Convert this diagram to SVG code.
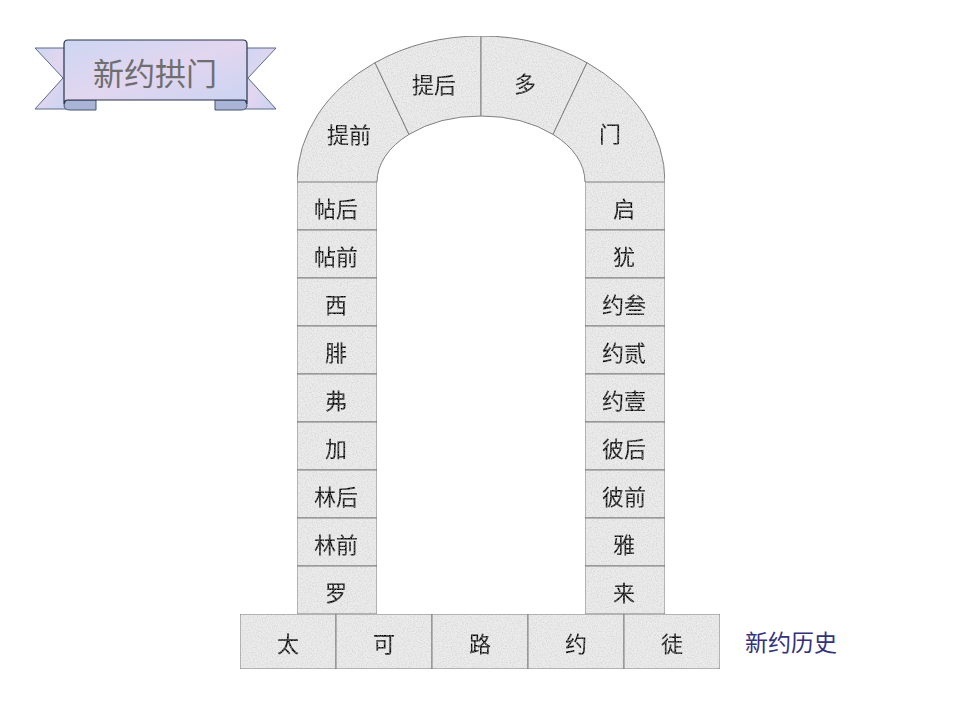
<svg xmlns="http://www.w3.org/2000/svg" width="960" height="720" viewBox="0 0 960 720">
<defs>
<filter id="grain" x="0" y="0" width="100%" height="100%">
<feTurbulence type="fractalNoise" baseFrequency="0.8" numOctaves="2" seed="3" result="n"/>
<feColorMatrix in="n" type="matrix" values="0 0 0 0 0.45  0 0 0 0 0.45  0 0 0 0 0.45  0 0 0 0.9 -0.35" result="g"/>
<feComposite in="g" in2="SourceGraphic" operator="in" result="gc"/>
<feMerge><feMergeNode in="SourceGraphic"/><feMergeNode in="gc"/></feMerge>
</filter>
<linearGradient id="ribbon" x1="0" y1="0" x2="1" y2="1">
<stop offset="0" stop-color="#cdd6f2"/>
<stop offset="0.5" stop-color="#e2d6f0"/>
<stop offset="1" stop-color="#c9d3f1"/>
</linearGradient>
<style>
.stone{fill:#ececec;stroke:#7a7a7a;stroke-width:1}
.t{font-family:"Noto Sans CJK SC","Noto Sans",sans-serif;font-size:22px;fill:#000;text-anchor:middle;dominant-baseline:central}
</style>
</defs>
<rect width="960" height="720" fill="#ffffff"/>

<g id="banner">
<path d="M35,48 L66,48 L66,109 L35,109 L63,78 Z" fill="url(#ribbon)" stroke="#5a6a8a" stroke-width="1"/>
<path d="M276,48 L245,48 L245,109 L276,109 L248,78 Z" fill="url(#ribbon)" stroke="#5a6a8a" stroke-width="1"/>
<path d="M66,100 L96,100 L96,110 L70,110 Q64,110 64,105 Z" fill="#a9b4d6" stroke="#44546e" stroke-width="1"/>
<path d="M245,100 L215,100 L215,110 L241,110 Q247,110 247,105 Z" fill="#a9b4d6" stroke="#44546e" stroke-width="1"/>
<path d="M68,40 L243,40 Q247,40 247,44 L247,104 Q247,100 243,100 L68,100 Q64,100 64,104 L64,44 Q64,40 68,40 Z" fill="url(#ribbon)" stroke="#2a3348" stroke-width="1.2"/>
<text x="155" y="71" font-family="'Noto Sans CJK SC','Noto Sans',sans-serif" font-size="31" fill="#6e6e6e" text-anchor="middle" dominant-baseline="central">新约拱门</text>
</g>

<g id="arch" filter="url(#grain)">
<g id="a1"><path class="stone" d="M297,182 A184,146 0 0 1 375,62.7 L409,134.4 A104,66 0 0 0 377,182 Z"/><text class="t" x="349" y="133">提前</text></g>
<g id="a2"><path class="stone" d="M375,62.7 A184,146 0 0 1 481,36 L481,116 A104,66 0 0 0 409,134.4 Z"/><text class="t" x="434" y="83">提后</text></g>
<g id="a3"><path class="stone" d="M481,36 A184,146 0 0 1 587,62.7 L553,134.4 A104,66 0 0 0 481,116 Z"/><text class="t" x="525" y="82">多</text></g>
<g id="a4"><path class="stone" d="M587,62.7 A184,146 0 0 1 665,182 L585,182 A104,66 0 0 0 553,134.4 Z"/><text class="t" x="610" y="132">门</text></g>
</g>

<g id="left" filter="url(#grain)">
<g id="l1"><rect class="stone" x="297" y="182" width="80" height="48"/><text class="t" x="336" y="207">帖后</text></g>
<g id="l2"><rect class="stone" x="297" y="230" width="80" height="48"/><text class="t" x="336" y="255">帖前</text></g>
<g id="l3"><rect class="stone" x="297" y="278" width="80" height="48"/><text class="t" x="336" y="303">西</text></g>
<g id="l4"><rect class="stone" x="297" y="326" width="80" height="48"/><text class="t" x="336" y="351">腓</text></g>
<g id="l5"><rect class="stone" x="297" y="374" width="80" height="48"/><text class="t" x="336" y="399">弗</text></g>
<g id="l6"><rect class="stone" x="297" y="422" width="80" height="48"/><text class="t" x="336" y="447">加</text></g>
<g id="l7"><rect class="stone" x="297" y="470" width="80" height="48"/><text class="t" x="336" y="495">林后</text></g>
<g id="l8"><rect class="stone" x="297" y="518" width="80" height="48"/><text class="t" x="336" y="543">林前</text></g>
<g id="l9"><rect class="stone" x="297" y="566" width="80" height="48"/><text class="t" x="336" y="591">罗</text></g>
</g>

<g id="right" filter="url(#grain)">
<g id="r1"><rect class="stone" x="585" y="182" width="80" height="48"/><text class="t" x="624" y="207">启</text></g>
<g id="r2"><rect class="stone" x="585" y="230" width="80" height="48"/><text class="t" x="624" y="255">犹</text></g>
<g id="r3"><rect class="stone" x="585" y="278" width="80" height="48"/><text class="t" x="624" y="303">约叁</text></g>
<g id="r4"><rect class="stone" x="585" y="326" width="80" height="48"/><text class="t" x="624" y="351">约贰</text></g>
<g id="r5"><rect class="stone" x="585" y="374" width="80" height="48"/><text class="t" x="624" y="399">约壹</text></g>
<g id="r6"><rect class="stone" x="585" y="422" width="80" height="48"/><text class="t" x="624" y="447">彼后</text></g>
<g id="r7"><rect class="stone" x="585" y="470" width="80" height="48"/><text class="t" x="624" y="495">彼前</text></g>
<g id="r8"><rect class="stone" x="585" y="518" width="80" height="48"/><text class="t" x="624" y="543">雅</text></g>
<g id="r9"><rect class="stone" x="585" y="566" width="80" height="48"/><text class="t" x="624" y="591">来</text></g>
</g>

<g id="base" filter="url(#grain)">
<g id="b1"><rect class="stone" x="240" y="614" width="96" height="55"/><text class="t" x="288" y="642">太</text></g>
<g id="b2"><rect class="stone" x="336" y="614" width="96" height="55"/><text class="t" x="384" y="642">可</text></g>
<g id="b3"><rect class="stone" x="432" y="614" width="96" height="55"/><text class="t" x="480" y="642">路</text></g>
<g id="b4"><rect class="stone" x="528" y="614" width="96" height="55"/><text class="t" x="576" y="642">约</text></g>
<g id="b5"><rect class="stone" x="624" y="614" width="96" height="55"/><text class="t" x="672" y="642">徒</text></g>
</g>

<g id="connectors"></g>

<text x="791" y="641" font-family="'Noto Sans CJK SC','Noto Sans',sans-serif" font-size="23" fill="#34327a" text-anchor="middle" dominant-baseline="central">新约历史</text>
</svg>
